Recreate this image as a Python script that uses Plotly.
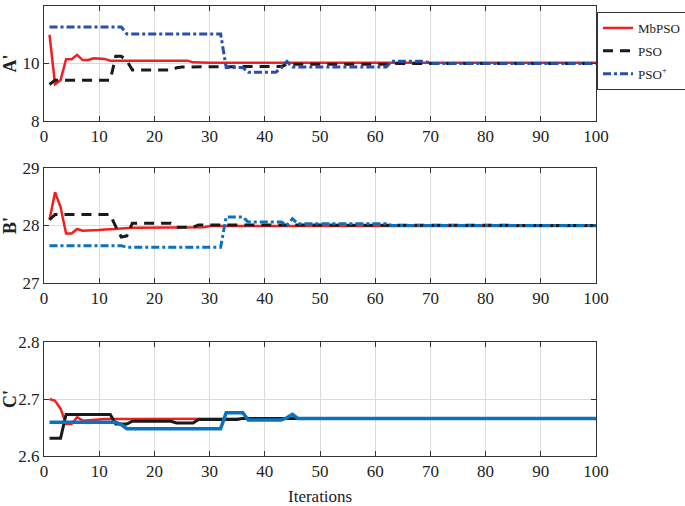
import plotly.graph_objects as go

iterations = list(range(1, 101))

# Panel A'
a_mbpso = [11.0, 9.28, 9.42, 10.15, 10.15, 10.3, 10.12, 10.12, 10.18, 10.18, 10.16] + [10.1] * 15 + [10.04] + [10.03] * 73
a_pso = [9.27] + [9.42] * 11 + [10.25, 10.25, 10.1] + [9.77] * 8 + [9.85] + [9.88] * 8 + [9.9] * 11 + [9.97] * 19 + [10.0] * 38
a_psop = [11.27] * 14 + [11.03] * 18 + [9.86] * 4 + [9.7] * 6 + [9.85, 10.07] + [9.88] * 18 + [10.08] * 7 + [10.0] * 31

# Panel B'
b_mbpso = [28.1, 28.58, 28.32, 27.86, 27.86, 27.94, 27.91, 27.91, 27.92, 27.92, 27.93, 27.93, 27.94, 27.95] + [27.96] * 10 + [27.97] * 5 + [27.99] * 71
b_pso = [28.1] + [28.19] * 11 + [27.98, 27.8, 27.82] + [28.04] * 8 + [27.97] * 4 + [28.01] * 35 + [28.0] * 38
b_psop = [27.65] * 14 + [27.62] * 18 + [28.15] * 4 + [28.06] * 7 + [28.0, 28.12] + [28.03] * 17 + [28.0] * 38

# Panel C'
c_mbpso = [2.700, 2.697, 2.683, 2.656, 2.656, 2.668, 2.662, 2.663, 2.664, 2.664] + [2.665] * 10 + [2.666] * 80
c_pso = [2.631] * 3 + [2.673] * 9 + [2.656] * 3 + [2.661] * 8 + [2.658] * 4 + [2.664] * 8 + [2.666] * 65
c_psop = [2.659] * 13 + [2.655] + [2.648] * 18 + [2.676] * 4 + [2.663] * 7 + [2.667, 2.673] + [2.666] * 55

series_names = ["MbPSO", "PSO", "PSO<sup>+</sup>"]
panel_labels = ["<b>A'</b>", "<b>B'</b>", "<b>C'</b>"]
y_ranges = [[8, 12], [27, 29], [2.6, 2.8]]
y_ticks = [[8, 10, 12], [27, 28, 29], [2.6, 2.7, 2.8]]
x_ticks = list(range(0, 101, 10))

RED = "#f02020"
BLACK = "#1a1a1a"
BLUE_A = "#2850b0"
BLUE = "#0a72c0"
FONT = "Liberation Serif"

H = 506.0
domains = [[1 - 121 / H, 1 - 6 / H], [1 - 283 / H, 1 - 168 / H], [1 - 456 / H, 1 - 342 / H]]

fig = go.Figure()

panels = [
    (a_mbpso, a_pso, a_psop, BLUE_A, ["solid", "10px,7px", "8px,3px,3px,3px"], [2.5, 3, 3]),
    (b_mbpso, b_pso, b_psop, BLUE, ["solid", "10px,7px", "8px,3px,3px,3px"], [2.5, 3, 3]),
    (c_mbpso, c_pso, c_psop, BLUE, ["solid", "solid", "solid"], [2.5, 3, 3.5]),
]

for i, (s_red, s_blk, s_blu, blue, dashes, widths) in enumerate(panels):
    xa = "x" if i == 0 else f"x{i+1}"
    ya = "y" if i == 0 else f"y{i+1}"
    for j, (vals, col) in enumerate([(s_red, RED), (s_blk, BLACK), (s_blu, blue)]):
        fig.add_trace(go.Scatter(
            x=iterations, y=vals, mode="lines",
            line=dict(color=col, width=widths[j], dash=dashes[j]),
            name=series_names[j], legendgroup=f"g{j}", showlegend=(i == 0),
            xaxis=xa, yaxis=ya,
        ))

axis_common = dict(
    showline=True, mirror="ticks", ticks="inside", ticklen=5, tickwidth=1,
    linecolor="#333333", linewidth=1, tickcolor="#333333",
    showgrid=True, gridcolor="#dcdcdc", gridwidth=1, zeroline=False,
    tickfont=dict(family=FONT, size=17, color="#222222"),
)

layout = dict(
    width=685, height=506,
    margin=dict(l=44, r=89, t=0, b=0, autoexpand=False),
    paper_bgcolor="white", plot_bgcolor="white",
    font=dict(family=FONT, color="#222222"),
    legend=dict(
        x=(597 - 44) / 552.0, xanchor="left", y=1 - 12 / H, yanchor="top",
        bordercolor="#333333", borderwidth=1, bgcolor="white",
        font=dict(family=FONT, size=13, color="#222222"),
        tracegroupgap=3, itemwidth=30,
    ),
    annotations=[],
)

for i in range(3):
    xk = "xaxis" if i == 0 else f"xaxis{i+1}"
    yk = "yaxis" if i == 0 else f"yaxis{i+1}"
    layout[xk] = dict(axis_common, range=[0, 100], tickvals=x_ticks, domain=[0, 1],
                      anchor="y" if i == 0 else f"y{i+1}")
    layout[yk] = dict(axis_common, range=y_ranges[i], tickvals=y_ticks[i], domain=domains[i],
                      anchor="x" if i == 0 else f"x{i+1}",
                      title=dict(text=panel_labels[i], font=dict(family=FONT, size=18, color="#222222"), standoff=8))

layout["annotations"].append(dict(
    text="Iterations", x=0.5, y=10 / H, xref="paper", yref="paper",
    xanchor="center", yanchor="middle", showarrow=False,
    font=dict(family=FONT, size=17, color="#222222"),
))

fig.update_layout(**layout)
fig.write_html("out.html", config={"displayModeBar": False},
               post_script="document.body.style.margin='0';document.body.style.padding='0';")
